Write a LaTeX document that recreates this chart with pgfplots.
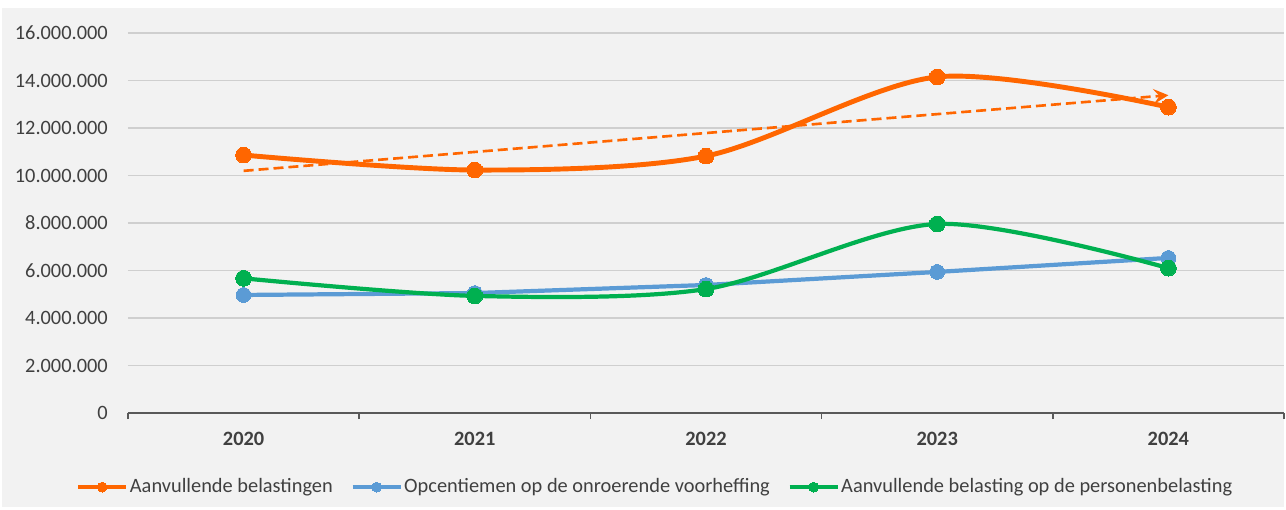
\documentclass[border=0pt]{standalone}
\usepackage{fontspec}
\setmainfont{Carlito}
\usepackage{pgfplots}
\pgfplotsset{compat=1.18}
\usetikzlibrary{arrows.meta}
\definecolor{cOrange}{HTML}{FF6600}
\definecolor{cBlue}{HTML}{5B9BD5}
\definecolor{cGreen}{HTML}{00B050}
\definecolor{bgGray}{HTML}{F2F2F2}
\definecolor{gridGray}{HTML}{CFCFCF}
\definecolor{axisGray}{HTML}{595959}
\definecolor{txtGray}{HTML}{404040}
\begin{document}
\begin{tikzpicture}
\fill[white] (-2.56,-1.92) rectangle (23.16,8.26);
\fill[bgGray] (-2.52,-1.88) rectangle (23.12,8.10);
\useasboundingbox (-2.56,-1.92) rectangle (23.16,8.26);
\begin{axis}[
  scale only axis, width=23.12cm, height=7.6cm,
  xmin=-0.5, xmax=4.5, ymin=0, ymax=16000000,
  scaled y ticks=false,
  axis x line*=bottom, axis y line*=left,
  y axis line style={draw=none},
  x axis line style={draw=axisGray, line width=1.4pt, -},
  ymajorgrids, grid style={draw=gridGray, line width=0.6pt},
  xtick={0,1,2,3,4}, xticklabels={2020,2021,2022,2023,2024},
  major x tick style={draw=none},
  minor xtick={-0.5,0.5,1.5,2.5,3.5,4.5},
  minor x tick style={draw=axisGray, line width=1pt},
  minor tick length=0.12cm,
  tick align=outside,
  ytick={0,2000000,4000000,6000000,8000000,10000000,12000000,14000000,16000000},
  yticklabels={0,2.000.000,4.000.000,6.000.000,8.000.000,10.000.000,12.000.000,14.000.000,16.000.000},
  ytick style={draw=none},
  yticklabel style={font=\fontsize{11.6}{13}\selectfont, text=txtGray, xshift=-0.13cm},
  xticklabel style={font=\fontsize{11.6}{13}\selectfont\bfseries, text=txtGray, yshift=-0.1cm},
  legend columns=3,
  legend cell align=left,
  legend style={at={(0.456,-0.195)}, anchor=center, draw=none, fill=none,
    font=\fontsize{11.6}{13}\selectfont, text=txtGray,
    nodes={inner xsep=1pt},
    /tikz/every even column/.append style={column sep=0.32cm}},
  legend image code/.code={\draw[mark repeat=2,mark phase=2,#1, line width=2.2pt, mark size=2.8pt] plot coordinates {(0cm,0cm) (0.48cm,0cm) (0.96cm,0cm)};},
  clip=false,
]
\addplot[cOrange, line width=2.8pt, smooth, mark=*, mark size=4.5pt, mark options={fill=cOrange, draw=cOrange, line width=0pt}]
  coordinates {(0,10860000) (1,10230000) (2,10820000) (3,14150000) (4,12880000)};
\addlegendentry{Aanvullende belastingen}
\addplot[cBlue, line width=2.4pt, mark=*, mark size=4.2pt, mark options={fill=cBlue, draw=cBlue, line width=0pt}]
  coordinates {(0,4970000) (1,5050000) (2,5390000) (3,5940000) (4,6530000)};
\addlegendentry{Opcentiemen op de onroerende voorheffing}
\addplot[cGreen, line width=2.4pt, smooth, mark=*, mark size=4.5pt, mark options={fill=cGreen, draw=cGreen, line width=0pt}]
  coordinates {(0,5670000) (1,4930000) (2,5220000) (3,7960000) (4,6100000)};
\addlegendentry{Aanvullende belasting op de personenbelasting}
\addplot[cOrange, line width=1.5pt, dash pattern=on 0.2cm off 0.1cm, -{Stealth[length=0.3cm, width=0.3cm, inset=0.12cm]}, forget plot]
  coordinates {(0,10196000) (4,13380000)};
\end{axis}
\end{tikzpicture}
\end{document}
